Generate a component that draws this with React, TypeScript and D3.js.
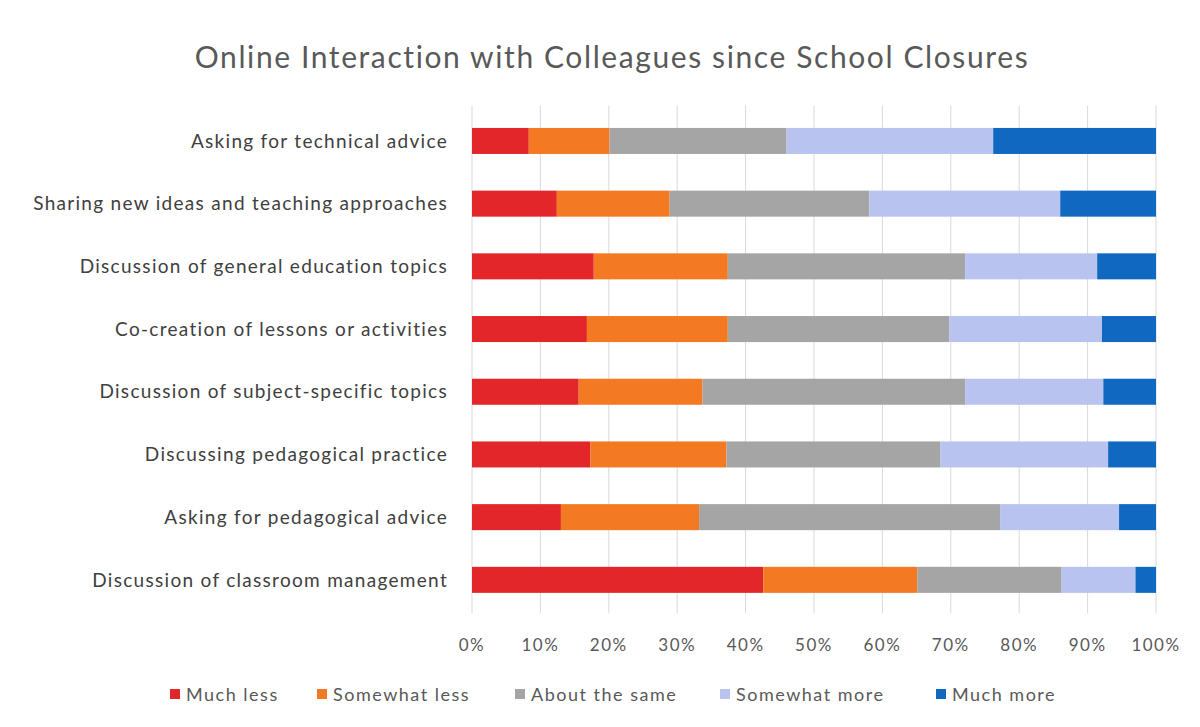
import React from "react";
import * as d3 from "d3";

const categories = [
  "Asking for technical advice",
  "Sharing new ideas and teaching approaches",
  "Discussion of general education topics",
  "Co-creation of lessons or activities",
  "Discussion of subject-specific topics",
  "Discussing pedagogical practice",
  "Asking for pedagogical advice",
  "Discussion of classroom management",
];

const seriesNames = ["Much less", "Somewhat less", "About the same", "Somewhat more", "Much more"];

// percentages per category, same order as categories
const muchLess = [8.3, 12.4, 17.8, 16.8, 15.6, 17.3, 13.0, 42.6];
const somewhatLess = [11.8, 16.5, 19.6, 20.6, 18.1, 19.9, 20.2, 22.5];
const aboutSame = [25.9, 29.2, 34.7, 32.4, 38.4, 31.3, 44.0, 21.1];
const somewhatMore = [30.2, 27.9, 19.3, 22.3, 20.2, 24.5, 17.4, 10.8];
const muchMore = [23.8, 14.0, 8.6, 7.9, 7.7, 7.0, 5.4, 3.0];

const ticks = [0, 10, 20, 30, 40, 50, 60, 70, 80, 90, 100];

const colors = ["#e2262a", "#f37a22", "#a5a5a5", "#b8c3f0", "#1068c0"];

const W = 1200;
const H = 727;
const plot = { left: 472, right: 1156, top: 109.6, bottom: 611.2 };
const font = "Lato, 'Open Sans', sans-serif";

export default function App() {
  const rows = categories.map((c, i) => ({
    cat: c,
    "Much less": muchLess[i],
    "Somewhat less": somewhatLess[i],
    "About the same": aboutSame[i],
    "Somewhat more": somewhatMore[i],
    "Much more": muchMore[i],
  }));
  const stacked = d3.stack<any>().keys(seriesNames).offset(d3.stackOffsetExpand)(rows);

  const x = d3.scaleLinear().domain([0, 1]).range([plot.left, plot.right]);
  const y = d3
    .scaleBand()
    .domain(categories)
    .range([plot.top, plot.bottom])
    .paddingInner(0.585)
    .paddingOuter(0.2925);

  const legendX = [170, 317, 515, 720, 936];

  return (
    <svg width={W} height={H} style={{ position: "absolute", left: 0, top: 0, background: "#fff" }}>
      <text
        x={612}
        y={68}
        textAnchor="middle"
        fontFamily={font}
        fontSize={30}
        letterSpacing={1.6}
        fill="#595959"
      >
        Online Interaction with Colleagues since School Closures
      </text>
      {ticks.map((t) => (
        <line
          key={"g" + t}
          x1={x(t / 100)}
          x2={x(t / 100)}
          y1={plot.top - 4}
          y2={plot.bottom + 2}
          stroke="#d9d9d9"
          strokeWidth={1}
        />
      ))}
      {stacked.map((s, si) => (
        <g key={s.key} fill={colors[si]}>
          {s.map((d, i) => (
            <rect
              key={i}
              x={x(d[0])}
              width={x(d[1]) - x(d[0])}
              y={y(categories[i])}
              height={y.bandwidth()}
            />
          ))}
        </g>
      ))}
      {categories.map((c) => (
        <text
          key={c}
          x={plot.left - 24}
          y={(y(c) as number) + y.bandwidth() / 2}
          dy="0.35em"
          textAnchor="end"
          fontFamily={font}
          fontSize={19}
          letterSpacing={1.3}
          fill="#404040"
        >
          {c}
        </text>
      ))}
      {ticks.map((t) => (
        <text
          key={"t" + t}
          x={x(t / 100)}
          y={651}
          textAnchor="middle"
          fontFamily={font}
          fontSize={17}
          letterSpacing={1.5}
          fill="#595959"
        >
          {t + "%"}
        </text>
      ))}
      {seriesNames.map((n, i) => (
        <g key={n} transform={`translate(${legendX[i]},0)`}>
          <rect x={0} y={689} width={10} height={10} fill={colors[i]} />
          <text x={16} y={701} fontFamily={font} fontSize={18} letterSpacing={1.5} fill="#595959">
            {n}
          </text>
        </g>
      ))}
    </svg>
  );
}
